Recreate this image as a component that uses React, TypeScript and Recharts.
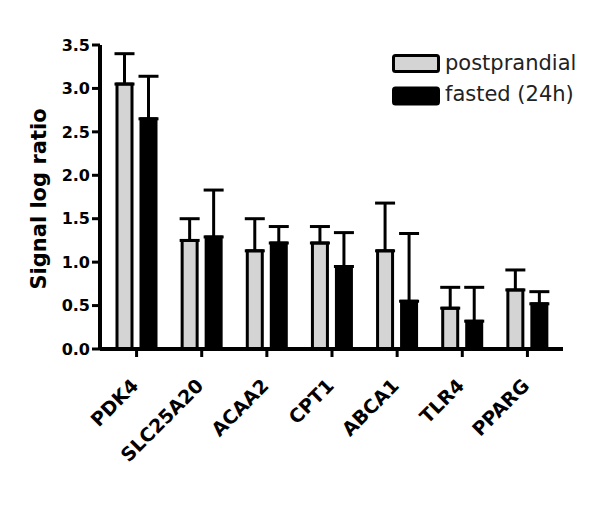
import React from 'react';
import { BarChart, Bar, XAxis, YAxis, ErrorBar, Legend } from 'recharts';

const genes = ['PDK4', 'SLC25A20', 'ACAA2', 'CPT1', 'ABCA1', 'TLR4', 'PPARG'];
const postprandial = [3.05, 1.25, 1.13, 1.22, 1.13, 0.47, 0.68];
const postprandialErr = [0.35, 0.25, 0.37, 0.19, 0.55, 0.24, 0.23];
const fasted = [2.65, 1.29, 1.22, 0.95, 0.55, 0.32, 0.52];
const fastedErr = [0.49, 0.54, 0.19, 0.39, 0.78, 0.39, 0.14];
const yTicks = [0, 0.5, 1, 1.5, 2, 2.5, 3, 3.5];

const data = genes.map((g, i) => ({
  gene: g,
  post: postprandial[i],
  postErr: [0, postprandialErr[i]],
  fast: fasted[i],
  fastErr: [0, fastedErr[i]],
}));

const FONT = '"DejaVu Sans", sans-serif';

function GeneTick({ x, y, payload }: any) {
  return (
    <text
      transform={`translate(${x + 3},${y + 26}) rotate(-45)`}
      textAnchor="end"
      fontFamily={FONT}
      fontWeight="bold"
      fontSize={19}
      fill="#000"
    >
      {payload.value}
    </text>
  );
}

function LegendBox() {
  return (
    <svg width={200} height={64}>
      <rect x={3.5} y={5.5} width={45} height={16} rx={2} fill="#d4d4d4" stroke="#000" strokeWidth={3} />
      <text x={55} y={20} fontFamily={FONT} fontSize={21} fill="#222">postprandial</text>
      <rect x={3.5} y={38} width={45} height={16} rx={2} fill="#000" stroke="#000" strokeWidth={3} />
      <text x={55} y={51} fontFamily={FONT} fontSize={21} fill="#222">fasted (24h)</text>
    </svg>
  );
}

export default function App() {
  return (
    <div style={{ position: 'absolute', left: 0, top: 0, background: '#fff' }}>
      <BarChart
        width={600}
        height={519}
        data={data}
        margin={{ top: 45, right: 37, bottom: 60, left: 40 }}
        barSize={15}
        barGap={9}
      >
        <XAxis
          dataKey="gene"
          height={110}
          padding={{ left: 4, right: 3 }}
          axisLine={{ stroke: '#000', strokeWidth: 4 }}
          tickLine={{ stroke: '#000', strokeWidth: 3 }}
          tickSize={8}
          tickMargin={4}
          tick={<GeneTick />}
          interval={0}
        />
        <YAxis
          domain={[0, 3.5]}
          ticks={yTicks}
          width={60}
          axisLine={{ stroke: '#000', strokeWidth: 4 }}
          tickLine={{ stroke: '#000', strokeWidth: 3 }}
          tickSize={8}
          tickMargin={2}
          tickFormatter={(v: number) => v.toFixed(1)}
          tick={{ fontFamily: FONT, fontWeight: 'bold', fontSize: 16, fill: '#000' }}
          label={{
            content: () => (
              <text
                transform="translate(46,199) rotate(-90)"
                textAnchor="middle"
                fontFamily={FONT}
                fontWeight="bold"
                fontSize={21}
                fill="#000"
              >
                Signal log ratio
              </text>
            ),
          }}
        />
        <Legend
          layout="horizontal"
          verticalAlign="middle"
          align="center"
          content={() => <LegendBox />}
          wrapperStyle={{ top: 50, left: 390, width: 200 }}
        />
        <Bar dataKey="post" name="postprandial" fill="#d4d4d4" stroke="#000" strokeWidth={3} isAnimationActive={false}>
          <ErrorBar dataKey="postErr" direction="y" width={10} stroke="#000" strokeWidth={3} isAnimationActive={false} />
        </Bar>
        <Bar dataKey="fast" name="fasted (24h)" fill="#000" stroke="#000" strokeWidth={3} isAnimationActive={false}>
          <ErrorBar dataKey="fastErr" direction="y" width={10} stroke="#000" strokeWidth={3} isAnimationActive={false} />
        </Bar>
      </BarChart>
    </div>
  );
}
